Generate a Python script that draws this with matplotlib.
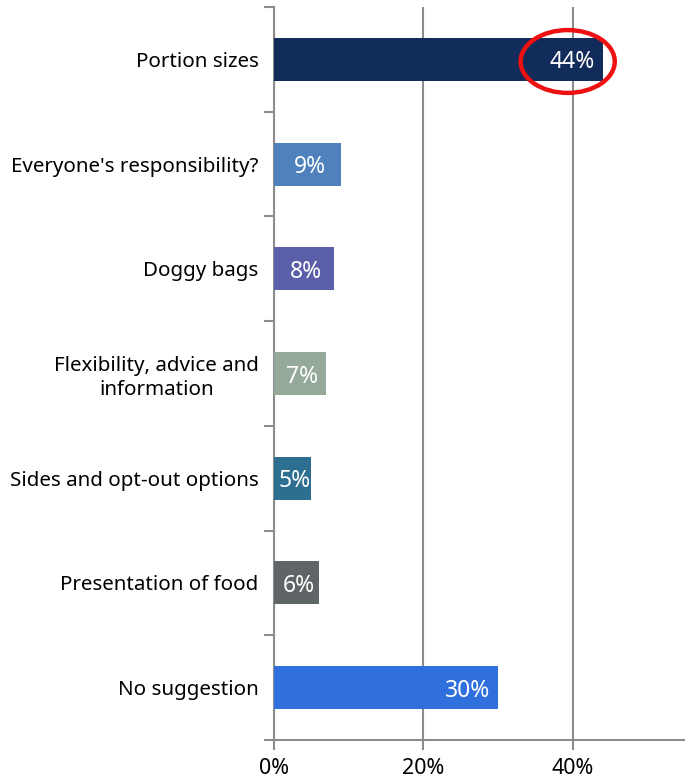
import matplotlib.pyplot as plt
from matplotlib.patches import Ellipse
from matplotlib.ticker import FixedLocator

plt.rcParams['font.family'] = ['Noto Sans', 'DejaVu Sans']

categorie = ["Portion sizes", "Everyone's responsibility?", "Doggy bags",
             "Flexibility, advice and\ninformation", "Sides and opt-out options",
             "Presentation of food", "No suggestion"]
valori = [44, 9, 8, 7, 5, 6, 30]
colori = ["#112b5a", "#4f81bd", "#5b5ea8", "#95a99a", "#2e6f91", "#5f6566", "#3070dc"]
tick_x = [0, 20, 40]

fig = plt.figure(figsize=(6.85, 7.82), dpi=100)
ax = fig.add_axes([0.4, 0.0537, 0.6, 0.9373])

y = list(range(len(categorie)))
ax.barh(y, valori, height=0.41, color=colori, zorder=3)
ax.set_ylim(len(categorie) - 0.5, -0.5)
ax.set_xlim(0, 55)

# etichette dei valori dentro le barre
for i, v in enumerate(valori):
    if v > 10:
        ax.text(v - 1.1, i, f"{v}%", ha="right", va="center_baseline", color="white", fontsize=16.5, zorder=4)
    else:
        ax.text(v / 2 + 0.3, i, f"{v}%", ha="center", va="center_baseline", color="white", fontsize=16.5, zorder=4)

# cerchio rosso sul valore principale
ax.add_patch(Ellipse((39.3, 0.02), 12.6, 0.6, fill=False, edgecolor="#ee1111",
                     linewidth=3.2, zorder=5, clip_on=False))

ax.set_yticks(y)
ax.set_yticklabels(categorie, fontsize=14.8)
for lab in ax.get_yticklabels():
    lab.set_multialignment("center")
    lab.set_linespacing(1.25)
ax.yaxis.set_minor_locator(FixedLocator([i - 0.5 for i in range(len(categorie) + 1)]))
ax.tick_params(axis="y", which="major", length=0, pad=11)
ax.tick_params(axis="y", which="minor", length=7, width=1.5, color="#8c8c8c", direction="out")

ax.set_xticks(tick_x)
ax.set_xticklabels([f"{t}%" for t in tick_x], fontsize=15.5)
ax.tick_params(axis="x", length=7, width=1.5, color="#8c8c8c", pad=6)

ax.grid(axis="x", color="#8c8c8c", linewidth=1.5, zorder=0)
for s in ["top", "right"]:
    ax.spines[s].set_visible(False)
for s in ["left", "bottom"]:
    ax.spines[s].set_color("#8c8c8c")
    ax.spines[s].set_linewidth(1.5)

plt.savefig("out.png", dpi=100)
